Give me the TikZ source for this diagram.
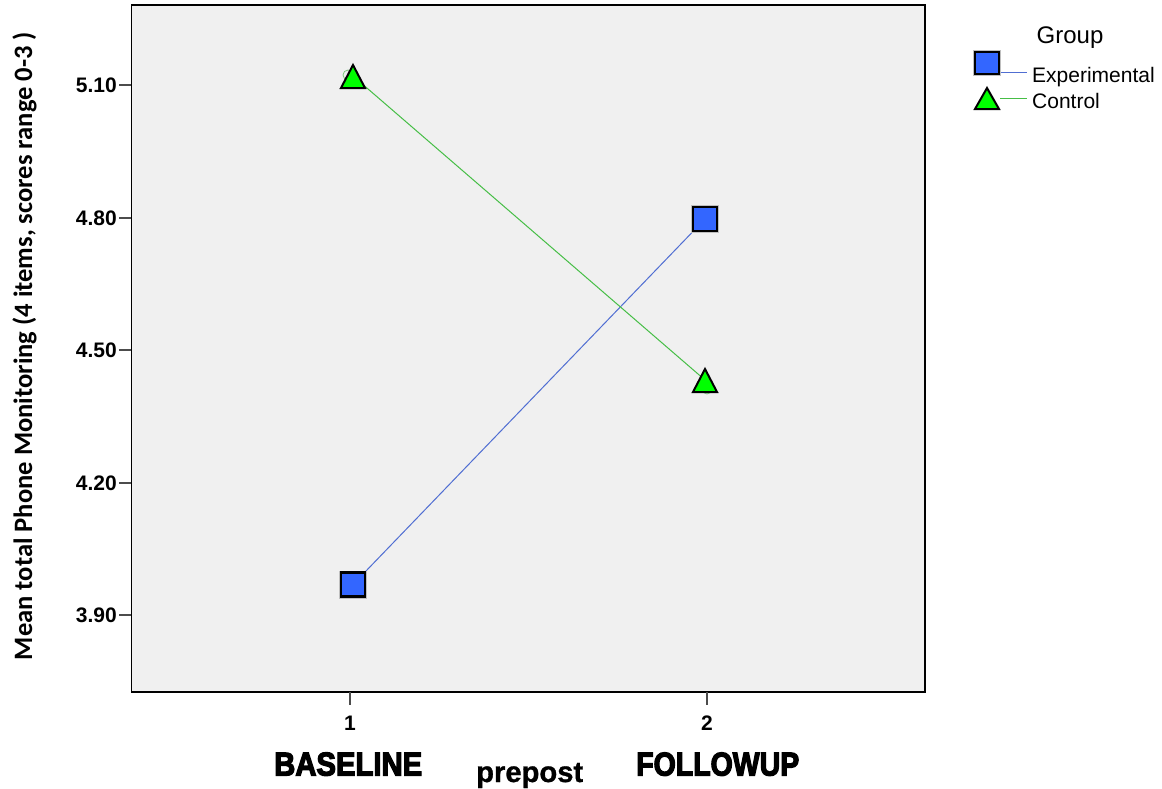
\documentclass[tikz,border=0pt]{standalone}
\usepackage{fontspec}
\setmainfont{Liberation Sans}
\newfontfamily\titlefont{Carlito}
\newfontfamily\heavyfont[FakeBold=4]{Liberation Sans Bold}
\newfontfamily\semiheavy[FakeBold=1]{Liberation Sans Bold}
\usetikzlibrary{calc}

\definecolor{plotbg}{RGB}{240,240,240}
\definecolor{expfill}{RGB}{51,102,255}
\definecolor{ctrlfill}{RGB}{0,255,0}
\definecolor{expline}{RGB}{80,110,210}
\definecolor{ctrlline}{RGB}{70,190,70}
\definecolor{ghost}{RGB}{120,200,120}

\begin{document}
\begin{tikzpicture}[x=1pt,y=-1pt,
  ticklab/.style={font=\fontsize{21}{25}\selectfont\bfseries, inner sep=0pt},
  legtext/.style={font=\fontsize{21}{25}\selectfont, inner sep=0pt, anchor=base west},
  expln/.style={draw=expline, line width=1pt},
  ctrlln/.style={draw=ctrlline, line width=1pt},
  tickmark/.style={draw=black!70, line width=1.2pt}]

\useasboundingbox (0,0) rectangle (1162,788);

% plot panel
\draw[fill=plotbg, line width=1.6pt] (131.5,5) rectangle (925,692);

% y ticks and labels
\foreach \v/\yy in {5.10/85, 4.80/218, 4.50/350, 4.20/483, 3.90/615} {
  \draw[tickmark] (119,\yy) -- (131,\yy);
  \node[ticklab, anchor=east] at (117,\yy) {\v};
}
% x ticks and labels
\foreach \lab/\xx in {1/350, 2/707} {
  \draw[tickmark] (\xx,692) -- (\xx,705);
  \node[ticklab, anchor=base] at (\xx,730) {\lab};
}

% axis titles
\node[rotate=90, anchor=base, inner sep=0pt] (ytitle) at (32,346)
  {\resizebox{628pt}{!}{\titlefont\bfseries Mean total Phone Monitoring (4 items, scores range 0-3 )}};
\node[anchor=south west, inner sep=0pt] (base) at (274,776)
  {\resizebox{148pt}{23pt}{\heavyfont BASELINE}};
\node[anchor=south west, inner sep=0pt] (follow) at (636,776)
  {\resizebox{163pt}{23pt}{\heavyfont FOLLOWUP}};
\node[anchor=base west, inner sep=0pt] (prepost) at (476,782)
  {\resizebox{107pt}{!}{\fontsize{29}{34}\selectfont\semiheavy prepost}};

% data points
\coordinate (e1) at (353,584.5);
\coordinate (e2) at (705,219);
\coordinate (c1) at (353,76);
\coordinate (c2) at (705,380);

\draw[expln] (e1) -- (e2);
\draw[ctrlln] (c1) -- (c2);

% faint circle markers under the triangles
\draw[ghost, line width=0.8pt] (348,75) circle (5);
\draw[ghost, line width=0.8pt] (707,389) circle (5);

% square markers
\foreach \p in {e1,e2} {
  \fill[black!25] ($(\p)+(-14,-14)$) rectangle ($(\p)+(14,14)$);
  \draw[fill=expfill, line width=2.2pt] ($(\p)+(-12,-12)$) rectangle ($(\p)+(12,12)$);
}
% triangle markers
\foreach \p in {c1,c2} {
  \draw[fill=ctrlfill, line width=2pt, miter limit=3]
    ($(\p)+(0,-11)$) -- ($(\p)+(12,12)$) -- ($(\p)+(-12,12)$) -- cycle;
}

% legend
\node[anchor=base, inner sep=0pt, font=\fontsize{24}{28}\selectfont] (group) at (1070,43) {Group};
\coordinate (ls) at (987,63);
\coordinate (lt) at (987,98);
\draw[expln] (1000,72.5) -- (1027,72.5);
\draw[ctrlln] (1000,98) -- (1027,98);
\fill[black!25] ($(ls)+(-14,-13)$) rectangle ($(ls)+(14,13)$);
\draw[fill=expfill, line width=2.2pt] ($(ls)+(-12,-11)$) rectangle ($(ls)+(12,11)$);
\draw[fill=ctrlfill, line width=2pt, miter limit=3]
  ($(lt)+(0,-10)$) -- ($(lt)+(12,11)$) -- ($(lt)+(-12,11)$) -- cycle;
\node[legtext] (lexp) at (1032,82) {Experimental};
\node[legtext] (lctl) at (1032,108) {Control};
\end{tikzpicture}
\end{document}
